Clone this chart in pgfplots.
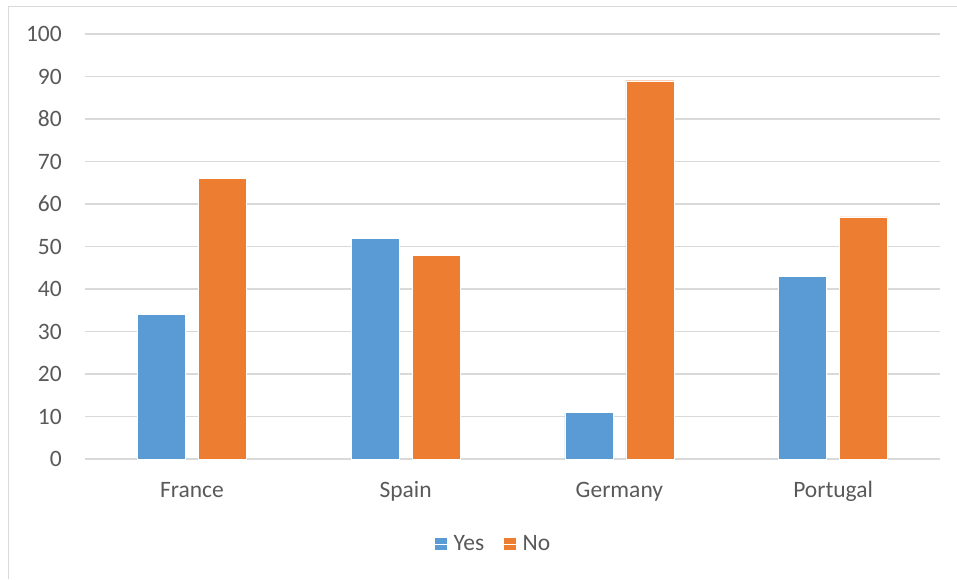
\documentclass[border=0pt]{standalone}
\usepackage{fontspec}
\setmainfont{Carlito}
\usepackage{pgfplots}
\pgfplotsset{compat=1.18}
\definecolor{cblue}{HTML}{5B9BD5}
\definecolor{corange}{HTML}{ED7D31}
\definecolor{cgrid}{HTML}{D9D9D9}
\definecolor{ctext}{HTML}{595959}
\begin{document}
\begin{tikzpicture}
\path[use as bounding box] (0pt,0pt) rectangle (957pt,579pt);
\draw[cgrid, line width=1.5pt] (8.5pt,0pt) -- (8.5pt,572.5pt) -- (957pt,572.5pt);
\begin{axis}[
  at={(85pt,120pt)}, anchor=south west,
  scale only axis, width=855pt, height=425pt,
  ybar=13pt, bar width=48pt,
  xmin=-0.5, xmax=3.5, ymin=0, ymax=100,
  xtick={0,1,2,3},
  xticklabels={France,Spain,Germany,Portugal},
  ytick={0,10,...,100},
  axis line style={draw=none},
  major tick length=0pt,
  ymajorgrids, grid style={cgrid, line width=1.2pt},
  font=\fontsize{23.5}{28}\selectfont,
  tick label style={text=ctext, font=\fontsize{23.5}{28}\selectfont},
  /pgf/number format/assume math mode=true,
  yticklabel style={inner sep=0pt, anchor=east, xshift=-23pt},
  xticklabel style={inner sep=0pt, anchor=base, yshift=-38pt},
  legend columns=2,
  legend style={at={(0.478,-0.2)}, anchor=center, draw=none, fill=none,
    text=ctext, font=\fontsize{23.5}{28}\selectfont,
    /tikz/every even column/.append style={column sep=18pt}},
  legend image code/.code={\fill[#1,draw=none] (0pt,-6pt) rectangle (12pt,6pt);\path (0pt,0pt) -- (16pt,0pt);},
]
\addplot[fill=cblue, draw=white, line width=0.4pt] coordinates {(0,34) (1,52) (2,11) (3,43)};
\addplot[fill=corange, draw=white, line width=0.4pt] coordinates {(0,66) (1,48) (2,89) (3,57)};
\legend{Yes,No}
\end{axis}
\end{tikzpicture}
\end{document}
